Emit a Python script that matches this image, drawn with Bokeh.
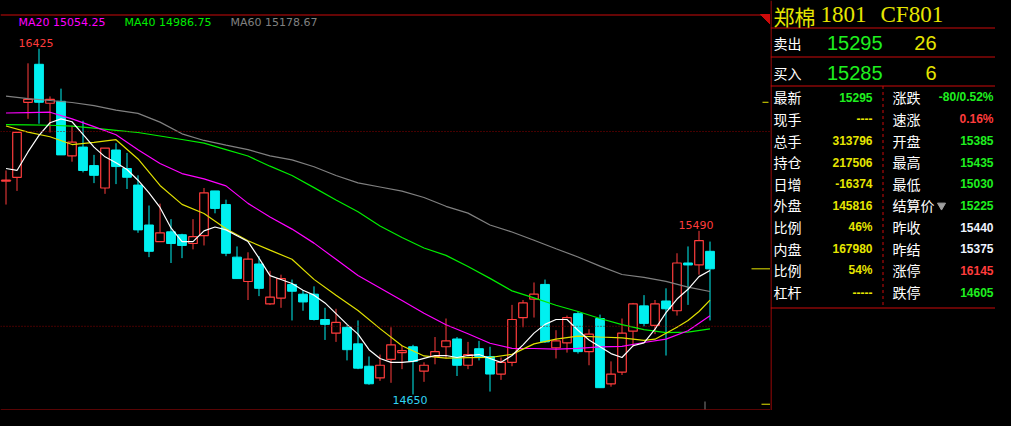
import numpy as np
from bokeh.plotting import figure
from bokeh.models import Range1d, Span, Label, ColumnDataSource
from bokeh.layouts import row
from bokeh.core.properties import value
from bokeh.embed import file_html
from bokeh.resources import INLINE

# ---------------- data ----------------
opens = [15745, 15765, 16150, 16345, 16145, 16155, 15875, 15920, 15825, 15710,
         15905, 15810, 15725, 15520, 15435, 15485, 15470, 15425, 15465, 15695,
         15625, 15355, 15230, 15320, 15115, 15145, 15215, 15165, 15165, 15035,
         14965, 14995, 14910, 14795, 14735, 14830, 14865, 14895, 14770, 14845,
         14895, 14935, 14800, 14885, 14845, 14755, 14815, 15045, 15140, 15215,
         14890, 14915, 15065, 14870, 15040, 14705, 14765, 14975, 15105, 15005,
         15130, 15080, 15325, 15315, 15385]
highs = [15800, 15995, 16350, 16425, 16180, 16220, 16030, 16055, 15880, 15915,
         15940, 15890, 15775, 15620, 15630, 15550, 15475, 15550, 15710, 15695,
         15650, 15410, 15380, 15360, 15285, 15265, 15240, 15185, 15205, 15095,
         15090, 15005, 15030, 14845, 14855, 14995, 14900, 14905, 14815, 14945,
         15040, 14945, 14920, 14925, 14895, 14840, 15110, 15135, 15225, 15240,
         14980, 15055, 15075, 14985, 15060, 14820, 15040, 15120, 15160, 15135,
         15195, 15375, 15410, 15490, 15435]
lows = [15625, 15695, 16065, 16040, 15995, 15880, 15845, 15790, 15735, 15680,
        15730, 15705, 15480, 15355, 15435, 15325, 15350, 15395, 15415, 15580,
        15360, 15245, 15135, 15155, 15110, 15095, 15030, 15080, 15030, 14930,
        14920, 14825, 14780, 14700, 14720, 14710, 14780, 14650, 14715, 14805,
        14835, 14745, 14780, 14825, 14665, 14725, 14795, 14995, 15045, 14915,
        14835, 14865, 14860, 14800, 14685, 14690, 14750, 14895, 15000, 14960,
        14850, 15055, 15110, 15265, 15030]
closes = [15750, 15995, 16165, 16150, 16165, 15880, 15945, 15800, 15775, 15915,
          15820, 15765, 15495, 15385, 15480, 15425, 15415, 15460, 15685, 15605,
          15375, 15245, 15345, 15195, 15150, 15245, 15180, 15125, 15035, 15010,
          15020, 14880, 14785, 14705, 14800, 14905, 14875, 14820, 14800, 14870,
          14925, 14800, 14855, 14845, 14755, 14815, 15035, 15120, 15165, 14920,
          14925, 15045, 14870, 14960, 14685, 14755, 14965, 15115, 15015, 15115,
          15090, 15325, 15315, 15440, 15295]

ma5 = [15810, 15800, 15895, 15980, 16045, 16065, 16050, 15985, 15920, 15870,
       15840, 15805, 15750, 15685, 15610, 15505, 15435, 15435, 15490, 15510,
       15495, 15465, 15435, 15350, 15260, 15240, 15220, 15185, 15160, 15120,
       15065, 15010, 14960, 14880, 14835, 14815, 14815, 14820, 14835, 14850,
       14850, 14840, 14850, 14855, 14835, 14815, 14850, 14905, 14965, 15010,
       15035, 15035, 14980, 14930, 14895, 14860, 14840, 14900, 14915, 14985,
       15070, 15140, 15190, 15255, 15287]
ma10_idx = [0, 2, 4, 6, 8, 10, 12, 14, 16, 18, 20, 22, 24, 26, 28, 30, 32, 34,
            36, 38, 40, 42, 44, 46, 48, 50, 52, 54, 56, 58, 59, 60, 61, 62, 63, 64]
ma10 = [16028, 15997, 15973, 15933, 15944, 15958, 15859, 15723, 15626, 15579,
        15501, 15439, 15391, 15344, 15241, 15159, 15081, 14988, 14900, 14848,
        14837, 14839, 14840, 14856, 14910, 14934, 14950, 14945, 14941, 14928,
        14934, 14964, 14995, 15030, 15076, 15134]
ma_idx = list(range(0, 65, 2))
ma20 = [16095, 16097, 16099, 16065, 16025, 15983, 15906, 15836, 15784, 15757,
        15721, 15631, 15561, 15499, 15427, 15344, 15261, 15197, 15132, 15067,
        15008, 14962, 14913, 14887, 14886, 14883, 14887, 14894, 14897, 14917,
        14934, 14977, 15054.25]
ma40 = [16035, 16034, 16032, 16028, 16017, 16006, 15995, 15977, 15959, 15940,
        15907, 15874, 15822, 15774, 15712, 15648, 15588, 15515, 15456, 15402,
        15364, 15307, 15246, 15182, 15146, 15108, 15076, 15040, 15009, 14983,
        14968, 14970, 14986.75]
ma60 = [16182, 16169, 16159, 16149, 16133, 16110, 16093, 16048, 15988, 15954,
        15930, 15907, 15875, 15854, 15819, 15774, 15736, 15715, 15694, 15661,
        15616, 15581, 15520, 15484, 15442, 15398, 15356, 15309, 15266, 15251,
        15231, 15201, 15178.67]
grid_levels = [16000, 15000]
scale_marks = [16150, 14600]

title_name = "郑棉"
title_code1 = "1801"
title_code2 = "CF801"
book_labels = ["卖出", "买入"]
book_prices = ["15295", "15285"]
book_volumes = ["26", "6"]
left_labels = ["最新", "现手", "总手", "持仓", "日增", "外盘", "比例", "内盘", "比例", "杠杆"]
left_values = ["15295", "----", "313796", "217506", "-16374", "145816", "46%", "167980", "54%", "-----"]
right_labels = ["涨跌", "速涨", "开盘", "最高", "最低", "结算价", "昨收", "昨结", "涨停", "跌停"]
right_values = ["-80/0.52%", "0.16%", "15385", "15435", "15030", "15225", "15440", "15375", "16145", "14605"]

# ---------------- styles ----------------
RED = "#ff3c3c"
CYAN = "#00f0f0"
YELLOW = "#e6e600"
GREEN = "#1ff01f"
MAGENTA = "#ff00ff"
GRAY = "#808080"
WHITE = "#ffffff"
FRAME_RED = "#cc0a0a"
DOT_RED = "#8c0000"

left_colors = [GREEN] + [YELLOW] * 9
right_colors = [GREEN, RED, GREEN, GREEN, GREEN, GREEN, "#eef4ff", "#eef4ff", RED, GREEN]

MAIN_W, PANEL_W, H = 770, 225, 410
SP = 11.0        # pixels per candle
X0 = 5.5         # pixel position of candle 0
PXU = 0.19481    # pixels per price unit
Y_TOP = 16000 + 131 / PXU
Y_BOT = Y_TOP - H / PXU


def ix(fx):
    return (fx - X0) / SP


def py(fy):
    return Y_TOP - fy / PXU


p = figure(width=MAIN_W, height=H, title=None,
           x_range=Range1d(ix(0), ix(MAIN_W)), y_range=Range1d(Y_BOT, Y_TOP),
           output_backend="svg", toolbar_location=None,
           x_axis_location=None, y_axis_location=None, min_border=0,
           background_fill_color="black", border_fill_color="black",
           outline_line_color=None)
p.grid.visible = False

for lv in grid_levels:
    p.add_layout(Span(location=lv, dimension="width", line_color=DOT_RED,
                      line_dash="1 2", line_width=1))
p.add_layout(Span(location=py(14.5), dimension="width", line_color=FRAME_RED, line_width=1))
p.add_layout(Span(location=py(409.5), dimension="width", line_color="#b00808", line_width=1))

n = len(closes)
ids = list(range(n))
up = [i for i in ids if closes[i] >= opens[i]]
dn = [i for i in ids if closes[i] < opens[i]]


def src(sel):
    return ColumnDataSource(dict(
        x=sel,
        high=[highs[i] for i in sel],
        low=[lows[i] for i in sel],
        top=[max(opens[i], closes[i]) for i in sel],
        bottom=[min(opens[i], closes[i]) for i in sel]))


s_up, s_dn = src(up), src(dn)
p.segment(x0="x", y0="high", x1="x", y1="low", source=s_dn, line_color=CYAN, line_width=1)
p.vbar(x="x", width=0.8, top="top", bottom="bottom", source=s_dn,
       fill_color=CYAN, line_color=CYAN, line_width=1)
p.segment(x0="x", y0="high", x1="x", y1="low", source=s_up, line_color=RED, line_width=1)
p.vbar(x="x", width=0.78, top="top", bottom="bottom", source=s_up,
       fill_color="black", line_color=RED, line_width=1.2)

p.line(ma_idx, ma60, line_color=GRAY, line_width=1.2)
p.line(ma_idx, ma40, line_color="#00ee00", line_width=1.2)
p.line(ma_idx, ma20, line_color=MAGENTA, line_width=1.2)
p.line(ma10_idx, ma10, line_color="#e0e000", line_width=1.2)
p.line(ids, ma5, line_color=WHITE, line_width=1.2)

hi = int(np.argmax(highs))
lo = int(np.argmin(lows))
rh = n - 20 + int(np.argmax(highs[-20:]))
p.text(x=[hi, rh], y=[highs[hi], highs[rh]], text=[str(highs[hi]), str(highs[rh])],
       text_color=RED, text_align="center", text_baseline="bottom",
       x_offset=-3, y_offset=-2, text_font=value("DejaVu Sans"),
       text_font_size=value("11px"))
p.text(x=[lo], y=[lows[lo]], text=[str(lows[lo])], text_color="#30d4f4",
       text_align="center", text_baseline="top", x_offset=-3, y_offset=2,
       text_font=value("DejaVu Sans"), text_font_size=value("11px"))

legend = [("MA20", ma20[-1], MAGENTA, 18), ("MA40", ma40[-1], "#00ee00", 124),
          ("MA60", ma60[-1], GRAY, 230)]
for name, v, c, lx in legend:
    p.add_layout(Label(x=lx, y=H - 22, x_units="screen", y_units="screen",
                       text=f"{name} {v:.2f}", text_color=c, text_font="DejaVu Sans",
                       text_font_size="11px", text_baseline="middle"))

# right-edge price marks
p.segment(x0=[ix(751)], y0=[closes[-1]], x1=[ix(770)], y1=[closes[-1]], line_color=YELLOW, line_width=1)
p.segment(x0=[ix(762), ix(761)], y0=scale_marks, x1=[ix(768), ix(770)],
          y1=scale_marks, line_color=YELLOW, line_width=1)
p.segment(x0=[ix(704.5)], y0=[py(401)], x1=[ix(704.5)], y1=[py(409)], line_color=GRAY, line_width=1)
p.patch(x=[ix(760), ix(770), ix(770)], y=[py(14), py(14), py(24)], fill_color=FRAME_RED,
        line_color=FRAME_RED)

# ---------------- quote panel ----------------
q = figure(width=PANEL_W, height=H, title=None,
           x_range=Range1d(770, 770 + PANEL_W), y_range=Range1d(H, 0),
           output_backend="svg", toolbar_location=None,
           x_axis_location=None, y_axis_location=None, min_border=0,
           background_fill_color="black", border_fill_color="black",
           outline_line_color=None)
q.grid.visible = False

RIGHT = 770 + PANEL_W
q.segment(x0=[770.5, 770, 770, 770, 770], y0=[0, 27.5, 56.5, 85.5, 307.5],
          x1=[770.5, RIGHT, RIGHT, RIGHT, RIGHT], y1=[H, 27.5, 56.5, 85.5, 307.5],
          line_color=FRAME_RED, line_width=1)
q.segment(x0=[882.5], y0=[85.5], x1=[882.5], y1=[307.5], line_color=FRAME_RED,
          line_dash="3 3", line_width=1)

CJK = value("Noto Sans CJK SC")
q.text(x=[773], y=[15.5], text=[title_name], text_color=YELLOW, text_baseline="middle",
       text_font=CJK, text_font_size=value("21px"))
q.text(x=[820, 880], y=[14, 14], text=[title_code1, title_code2], text_color=YELLOW,
       text_baseline="middle", text_font=value("Liberation Serif"),
       text_font_size=value("23px"))

book_y = [42.5, 72.5]
q.text(x=[773, 773], y=book_y, text=book_labels, text_color=WHITE, text_baseline="middle",
       text_font=CJK, text_font_size=value("14px"))
q.text(x=[882, 882], y=book_y, text=book_prices, text_color=GREEN, text_align="right",
       text_baseline="middle", text_font=value("Liberation Sans"),
       text_font_size=value("20px"))
q.text(x=[936, 936], y=book_y, text=book_volumes, text_color=YELLOW, text_align="right",
       text_baseline="middle", text_font=value("Liberation Sans"),
       text_font_size=value("20px"))

row_y = [96.7 + 21.65 * k for k in range(len(left_labels))]
q.text(x=[773] * 10, y=row_y, text=left_labels, text_color=WHITE, text_baseline="middle",
       text_font=CJK, text_font_size=value("14px"))
q.text(x=[892] * 10, y=row_y, text=right_labels, text_color=WHITE, text_baseline="middle",
       text_font=CJK, text_font_size=value("14px"))
lv_src = ColumnDataSource(dict(x=[872] * 10, y=row_y, t=left_values, c=left_colors))
rv_src = ColumnDataSource(dict(x=[RIGHT - 2] * 10, y=row_y, t=right_values, c=right_colors))
for s in (lv_src, rv_src):
    q.text(x="x", y="y", text="t", text_color="c", source=s, text_align="right",
           text_baseline="middle", text_font=value("Liberation Sans"),
           text_font_style="bold", text_font_size=value("12px"))
q.scatter(x=[941], y=[row_y[5]], marker="inverted_triangle", size=8,
          fill_color="#a0a0a0", line_color="#a0a0a0")

layout = row(p, q)
html = file_html(layout, INLINE, title="郑棉1801")
html = html.replace("</head>", "<style>html, body { background-color: #000000; }</style></head>", 1)
open("out.html", "w").write(html)
